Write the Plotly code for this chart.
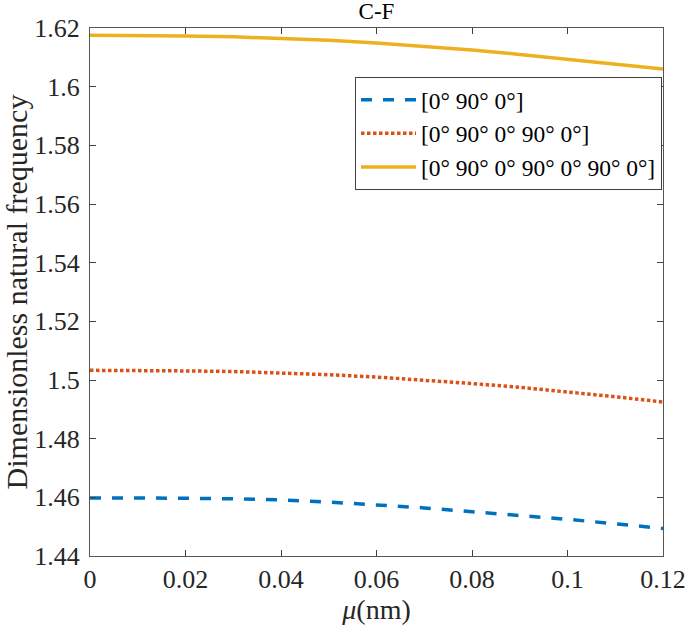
import plotly.graph_objects as go

mu = [0.00, 0.01, 0.02, 0.03, 0.04, 0.05, 0.06, 0.07, 0.08, 0.09, 0.10, 0.11, 0.12]
freq_3 = [1.4598, 1.4598, 1.4597, 1.4595, 1.4591, 1.4584, 1.4575, 1.4564, 1.4551, 1.4539, 1.4525, 1.4510, 1.4494]
freq_5 = [1.5033, 1.5033, 1.5031, 1.5029, 1.5025, 1.5018, 1.5010, 1.5000, 1.4988, 1.4975, 1.4960, 1.4943, 1.4925]
freq_7 = [1.6175, 1.6175, 1.6173, 1.6170, 1.6165, 1.6158, 1.6149, 1.6138, 1.6125, 1.6110, 1.6093, 1.6075, 1.6060]
names = ["[0° 90° 0°]", "[0° 90° 0° 90° 0°]", "[0° 90° 0° 90° 0° 90° 0°]"]

xticks = [0, 0.02, 0.04, 0.06, 0.08, 0.1, 0.12]
xticklabels = ["0", "0.02", "0.04", "0.06", "0.08", "0.1", "0.12"]
yticks = [1.44, 1.46, 1.48, 1.5, 1.52, 1.54, 1.56, 1.58, 1.6, 1.62]
yticklabels = ["1.44", "1.46", "1.48", "1.5", "1.52", "1.54", "1.56", "1.58", "1.6", "1.62"]

FONT = "Liberation Serif"
TXT = "#262626"

fig = go.Figure()
fig.add_trace(go.Scatter(x=mu, y=freq_3, mode="lines", name=names[0],
                         line=dict(color="#0072BD", width=3.5, dash="11px,11px")))
fig.add_trace(go.Scatter(x=mu, y=freq_5, mode="lines", name=names[1],
                         line=dict(color="#D95319", width=3.5, dash="3.5px,2.5px")))
fig.add_trace(go.Scatter(x=mu, y=freq_7, mode="lines", name=names[2],
                         line=dict(color="#EDB120", width=3.5)))

axis_common = dict(showgrid=False, zeroline=False, showline=True, mirror="ticks",
                   linecolor="#555555", linewidth=1, ticks="inside", ticklen=6,
                   tickcolor="#404040", automargin=False, ticklabeloverflow="allow",
                   tickfont=dict(family=FONT, size=26, color=TXT))

fig.update_layout(
    width=685, height=631,
    margin=dict(l=90, r=22, t=28, b=75),
    paper_bgcolor="white", plot_bgcolor="white",
    font=dict(family=FONT, color=TXT),
    title=dict(text="C-F", x=(90 + 663) / 2 / 685, xanchor="center", y=1 - 11 / 631, yanchor="middle",
               font=dict(family=FONT, size=23, color="#000")),
    xaxis=dict(range=[0, 0.12], tickvals=xticks, ticktext=xticklabels, ticklabelstandoff=0,
               title=dict(text="<i>μ</i>(nm)", font=dict(family=FONT, size=28, color=TXT), standoff=6),
               **axis_common),
    yaxis=dict(range=[1.44, 1.62], tickvals=yticks, ticktext=yticklabels, ticklabelstandoff=4,
               title=dict(text="Dimensionless natural frequency", font=dict(family=FONT, size=30, color=TXT), standoff=1),
               **axis_common),
    legend=dict(x=(662 - 90) / 573, xanchor="right", y=(556 - 77) / 528, yanchor="top",
                bordercolor="#404040", borderwidth=1, bgcolor="white",
                font=dict(family=FONT, size=23.5, color="#000"), itemwidth=55,
                tracegroupgap=0),
    showlegend=True,
)

fig.write_html("out.html", config={"displayModeBar": False},
               post_script="document.body.style.margin='0';document.body.style.overflow='hidden';")
